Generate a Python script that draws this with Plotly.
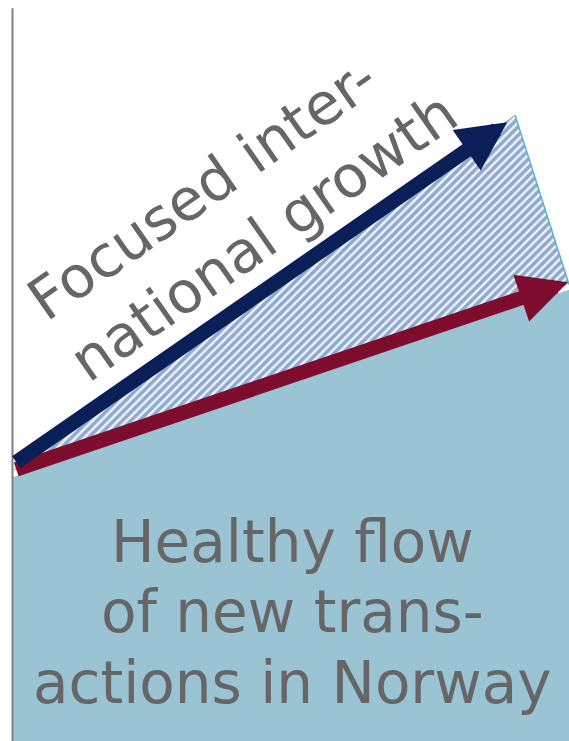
import plotly.graph_objects as go

# Growth paths over one planning period (0 = today, 1 = end of period)
period = [0.0, 1.0]
norway_base = [35.6, 60.9]          # top of the domestic deal-flow area

# Hatched wedge of added international growth
wedge_x = [0.0, 0.903, 1.0]
wedge_y = [36.5, 84.5, 61.6]

# Arrow endpoints: (tail_x, tail_y, head_x, head_y)
intl_arrow = (0.004, 37.5, 0.889, 83.5)
norway_arrow = (0.004, 36.6, 0.998, 61.9)

axis_top = 98.9

upper_lines = ["Focused inter-", "national growth"]
lower_lines = ["Healthy flow", "of new trans-", "actions in Norway"]

NAVY = "#0a1e58"
WINE = "#7e0c2f"
LIGHT = "#9ac4d3"
EDGE = "#55b2dc"
TEXT = "#666666"
FONT = "DejaVu Sans"

fig = go.Figure()

# Domestic flow area
fig.add_trace(go.Scatter(
    x=period, y=norway_base, mode="lines", fill="tozeroy",
    fillcolor=LIGHT, line=dict(width=0), hoverinfo="skip"))

# International growth wedge (striped)
fig.add_trace(go.Scatter(
    x=wedge_x + [wedge_x[0]], y=wedge_y + [wedge_y[0]],
    mode="lines", fill="toself", fillcolor="white",
    fillpattern=dict(shape="/", fgcolor="#2b5ca3", bgcolor="#f4f8fc",
                     size=6, solidity=0.62),
    line=dict(width=0), hoverinfo="skip"))

# Right edge of the wedge
fig.add_trace(go.Scatter(
    x=wedge_x[1:], y=wedge_y[1:], mode="lines",
    line=dict(color=EDGE, width=1.5), hoverinfo="skip"))

# Vertical axis line
fig.add_trace(go.Scatter(
    x=[0, 0], y=[0, axis_top], mode="lines",
    line=dict(color="#808080", width=2), hoverinfo="skip"))

def arrow(spec, color):
    tx, ty, hx, hy = spec
    return dict(x=hx, y=hy, ax=tx, ay=ty, xref="x", yref="y",
                axref="x", ayref="y", text="", showarrow=True,
                arrowhead=2, arrowsize=0.68, arrowwidth=14.5,
                arrowcolor=color, standoff=0)

annotations = [arrow(norway_arrow, WINE), arrow(intl_arrow, NAVY)]

W, H = 569, 741

# Rotated heading above the arrows
upper_centres = [(202, 189), (263, 237)]
for txt, (cx, cy) in zip(upper_lines, upper_centres):
    annotations.append(dict(
        x=cx / W, y=1 - cy / H, xref="paper", yref="paper",
        text=txt, showarrow=False, textangle=-35,
        xanchor="center", yanchor="middle",
        font=dict(family=FONT, size=58, color=TEXT)))

# Text inside the domestic area
lower_centres = [542, 612, 683]
for txt, cy in zip(lower_lines, lower_centres):
    annotations.append(dict(
        x=293 / W, y=1 - cy / H, xref="paper", yref="paper",
        text=txt, showarrow=False, xanchor="center", yanchor="middle",
        font=dict(family=FONT, size=58, color=TEXT)))

fig.update_layout(
    width=W, height=H, margin=dict(l=0, r=0, t=0, b=0),
    paper_bgcolor="white", plot_bgcolor="white", showlegend=False,
    xaxis=dict(range=[-12.5 / 556.5, 1], visible=False, fixedrange=True),
    yaxis=dict(range=[0, 100], visible=False, fixedrange=True),
    annotations=annotations)

fig.write_html("out.html", config={"displayModeBar": False})
